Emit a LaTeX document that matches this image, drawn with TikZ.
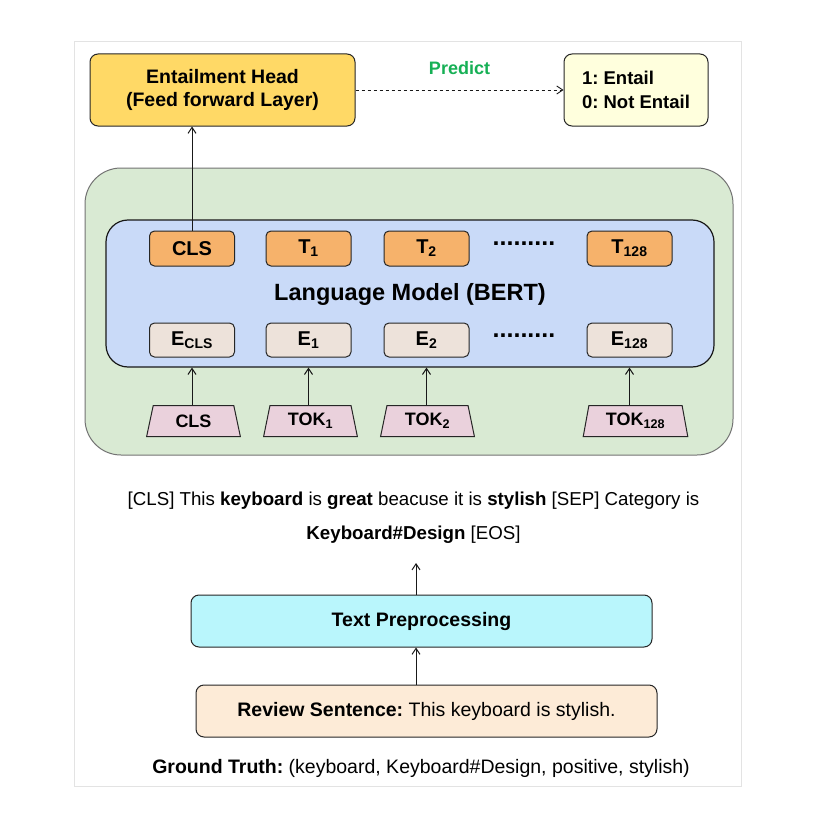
\documentclass[tikz,border=0pt]{standalone}
\usepackage{fontspec}
\setmainfont{Liberation Sans}
\frenchspacing
\usetikzlibrary{shapes.geometric,arrows.meta}
\definecolor{headfill}{HTML}{FFD966}
\definecolor{outfill}{HTML}{FFFFDD}
\definecolor{greenfill}{HTML}{D9EAD3}
\definecolor{bluefill}{HTML}{C9DAF8}
\definecolor{tfill}{HTML}{F6B26B}
\definecolor{efill}{HTML}{EDE2DA}
\definecolor{tokfill}{HTML}{EAD1DC}
\definecolor{prefill}{HTML}{B9F6FC}
\definecolor{revfill}{HTML}{FDEBD7}
\definecolor{predgreen}{HTML}{16B055}
\definecolor{framegray}{HTML}{E3E3E3}
\tikzset{
  box/.style={draw=black!85, line width=1pt, rounded corners=8pt, align=center, font=\bfseries\fontsize{19.5}{23.5}\selectfont},
  tbox/.style={box, fill=tfill, minimum width=85pt, minimum height=35pt, rounded corners=5pt, font=\bfseries\fontsize{20}{22}\selectfont},
  ebox/.style={box, fill=efill, minimum width=85pt, minimum height=34pt, rounded corners=5pt, font=\bfseries\fontsize{20}{22}\selectfont},
  tok/.style={trapezium, trapezium stretches=true, trapezium left angle=77, trapezium right angle=77, draw=black!85, line width=1pt, fill=tokfill, minimum width=94pt, minimum height=31pt, inner sep=0pt, font=\bfseries\fontsize{18}{20}\selectfont},
  arr/.style={-{Straight Barb[length=6pt,width=8pt]}, line width=1pt, black!90},
  dots/.style={font=\bfseries\fontsize{25}{26}\selectfont},
  plain/.style={font=\fontsize{18.7}{22}\selectfont}
}
\begin{document}
\begin{tikzpicture}[x=1pt,y=-1pt]
\useasboundingbox (0,0) rectangle (838,816);
\fill[white] (0,0) rectangle (838,816);
\draw[framegray, line width=1pt] (74,42) rectangle (741,786);

% top
\node[box, fill=headfill, minimum width=265pt, minimum height=72pt] (head) at (222.5,90) {Entailment Head\\(Feed forward Layer)};
\node[box, fill=outfill, minimum width=144pt, minimum height=72pt, align=left, font=\bfseries\fontsize{18.5}{23.5}\selectfont] (out) at (636,90) {1: Entail\\0: Not Entail};
\draw[arr, dashed, line width=0.9pt] (head.east) -- node[above=12pt, text=predgreen, font=\bfseries\fontsize{18}{20}\selectfont] (pred) {Predict} (out.west);

% BERT containers
\node[draw=black!55, line width=1pt, fill=greenfill, rounded corners=36pt, minimum width=648pt, minimum height=287pt] (green) at (409,311.5) {};
\node[draw=black!90, line width=1.2pt, fill=bluefill, rounded corners=22pt, minimum width=608pt, minimum height=147pt] (blue) at (410,293.5) {};
\node[font=\bfseries\fontsize{23.5}{26}\selectfont] (lm) at (410,294) {Language Model (BERT)};

% top row
\node[tbox] (tcls) at (192,248.5) {CLS};
\node[tbox] (t1) at (308.5,248.5) {T\textsubscript{1}};
\node[tbox] (t2) at (426.5,248.5) {T\textsubscript{2}};
\node[dots] (tdots) at (524,244) {.........};
\node[tbox] (t128) at (629.5,248.5) {T\textsubscript{128}};

% bottom row
\node[ebox] (ecls) at (192,340) {E\textsubscript{CLS}};
\node[ebox] (e1) at (308.5,340) {E\textsubscript{1}};
\node[ebox] (e2) at (426.5,340) {E\textsubscript{2}};
\node[dots] (edots) at (524,335.5) {.........};
\node[ebox] (e128) at (629.5,340) {E\textsubscript{128}};

% tokens
\node[tok] (kcls) at (193.5,421) {CLS};
\node[tok] (k1) at (310.5,421) {TOK\textsubscript{1}};
\node[tok] (k2) at (427.5,421) {TOK\textsubscript{2}};
\node[tok, minimum width=105pt] (k128) at (635.5,421) {TOK\textsubscript{128}};

\draw[arr] (kcls.north -| ecls) -- (ecls |- blue.south);
\draw[arr] (k1.north -| e1) -- (e1 |- blue.south);
\draw[arr] (k2.north -| e2) -- (e2 |- blue.south);
\draw[arr] (k128.north -| e128) -- (e128 |- blue.south);
\draw[arr] (tcls.north) -- (head.south -| tcls.north);

% sentence
\node[plain] (sent1) at (413.5,501) {[CLS] This \textbf{keyboard} is \textbf{great} beacuse it is \textbf{stylish} [SEP] Category is};
\node[plain] (sent2) at (413.5,535) {\textbf{Keyboard\#Design} [EOS]};

\node[box, fill=prefill, minimum width=461pt, minimum height=52pt] (pre) at (421.5,621) {Text Preprocessing};
\node[box, fill=revfill, minimum width=461pt, minimum height=52pt, font=\fontsize{19.5}{23}\selectfont] (rev) at (426.5,711) {\textbf{Review Sentence:} This keyboard is stylish.};
\coordinate (ax) at (416,563);
\draw[arr] (rev.north -| ax) -- (pre.south -| ax);
\draw[arr] (pre.north -| ax) -- (ax);

\node[font=\fontsize{19.5}{23}\selectfont] (gt) at (421,768) {\textbf{Ground Truth:} (keyboard, Keyboard\#Design, positive, stylish)};
\end{tikzpicture}
\end{document}
